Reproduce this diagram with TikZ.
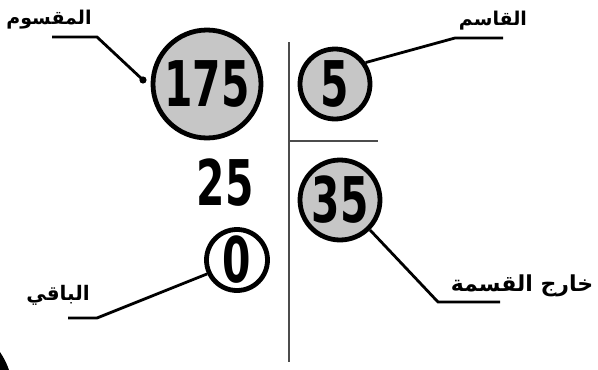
\documentclass[tikz,border=0pt]{standalone}
\usepackage{fontspec}
\TeXXeTstate=1
\newfontfamily\arabicfont[Script=Arabic]{DejaVu Sans}
\newfontfamily\digitfont{DejaVu Sans Condensed}
\newcommand{\dg}[1]{\scalebox{0.72}[1]{#1}}
\newcommand{\ar}[1]{\arabicfont\beginR #1\endR}
\begin{document}
\begin{tikzpicture}[x=1pt,y=-1pt,
  circ/.style={circle, draw, line width=4.8pt, fill=gray!45, inner sep=0pt, minimum size=#1},
  num/.style={font=\digitfont\bfseries\fontsize{63}{63}\selectfont},
  lead/.style={line width=2.8pt},
  lab/.style={inner sep=0pt},
  rule/.style={line width=1.8pt, black!70}]
\useasboundingbox (0,0) rectangle (598,370);
% division frame
\coordinate (vt) at (289,42);
\coordinate (vb) at (289,362);
\coordinate (hl) at (289,141);
\coordinate (hr) at (378,141);
\draw[rule] (vt) -- (vb);
\draw[rule, line width=1.5pt] (hl) -- (hr);
% numbers
\node[circ=108, num] (c175) at (207,84) {\dg{175}};
\node[circ=70, num] (c5) at (335,84) {\dg{5}};
\node[num] (n25) at (225,183) {\dg{25}};
\node[circ=80, num] (c35) at (340,200) {\dg{35}};
\node[circ=61, num, fill=white] (c0) at (237,260) {\dg{0}};
% labels
\node[lab, font=\bfseries\fontsize{19}{19}\selectfont] (lmq) at (49,20) {\ar{المقسوم}};
\node[lab, font=\bfseries\fontsize{19}{19}\selectfont] (lqs) at (493,21) {\ar{القاسم}};
\node[lab, font=\bfseries\fontsize{22}{22}\selectfont] (lkh) at (522,286) {\ar{خارج القسمة}};
\node[lab, font=\bfseries\fontsize{20}{20}\selectfont] (lbq) at (58,295) {\ar{الباقي}};
% leaders
\coordinate (d175) at (143,80);
\coordinate (k1) at (97,37);
\coordinate (k2) at (52,37);
\fill (d175) circle (3.6pt);
\draw[lead] (d175) -- (k1) -- (k2);
\coordinate (q1) at (455,38);
\coordinate (q2) at (503,38);
\draw[lead] (c5.35) -- (q1) -- (q2);
\coordinate (h1) at (438,302);
\coordinate (h2) at (500,302);
\draw[lead] (c35.-45) -- (h1) -- (h2);
\coordinate (b1) at (97,318);
\coordinate (b2) at (68,318);
\draw[lead] (c0.205) -- (b1) -- (b2);
% scan corner mark
\fill (0,352) .. controls (4,358) and (7,364) .. (9,370) -- (0,370) -- cycle;
\end{tikzpicture}
\end{document}
